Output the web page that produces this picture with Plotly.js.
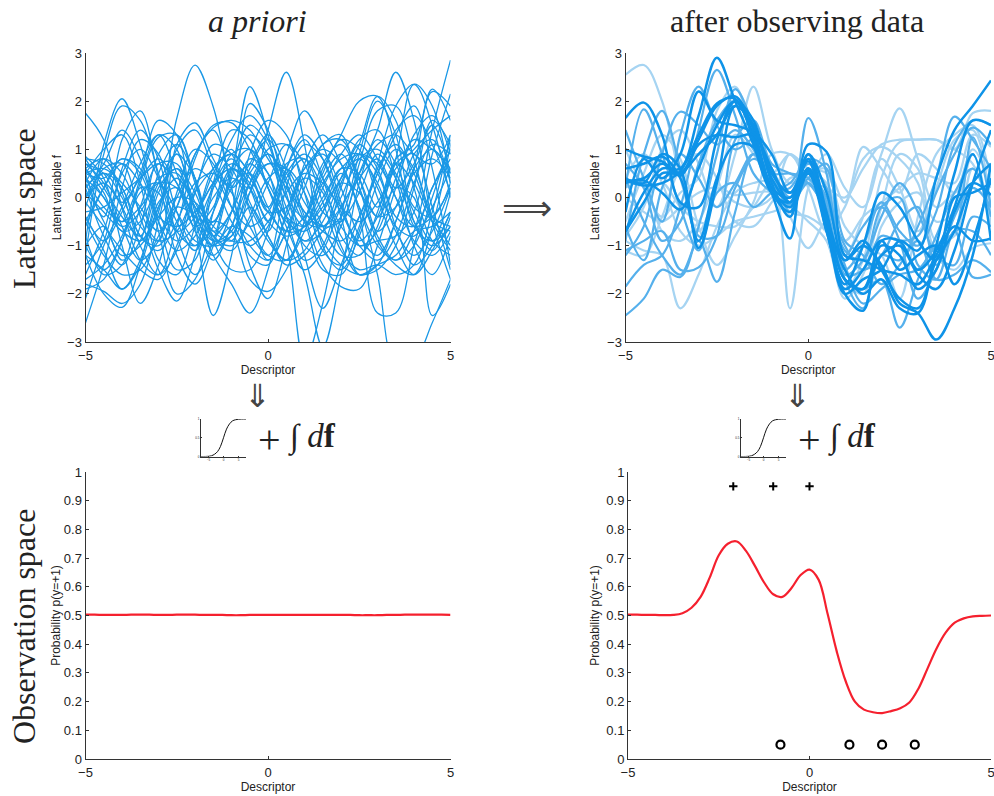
<!DOCTYPE html>
<html><head><meta charset="utf-8">
<script src="https://cdn.plot.ly/plotly-3.0.1.min.js"></script>
<style>html,body{margin:0;padding:0;background:#fff}</style></head>
<body><div id="chart" style="width:994px;height:796px"></div>
<script>
const grid=[-5,-4.5,-4,-3.5,-3,-2.5,-2,-1.5,-1,-0.5,0,0.5,1,1.5,2,2.5,3,3.5,4,4.5,5];
const priorSamples=[
[0.3,-0.5,-1.2,-1.0,-0.3,1.64,2.75,1.88,0.2,-1.2,-1.4,-0.3,0.6,0.9,0.2,-0.8,-1.2,-0.5,0.6,1.0,0.5],
[-0.6,0.2,0.8,0.5,-0.5,-1.1,-0.8,0.0,0.4,0.2,1.4,2.6,1.1,-1.0,-1.5,-0.8,0.3,1.0,0.6,-0.4,-1.0],
[0.7,0.3,-0.6,-1.3,-0.9,0.0,0.6,0.3,-0.5,-1.0,-0.6,0.4,0.8,0.2,-0.6,-1.0,-0.9,-0.8,-0.3,1.4,2.85],
[-0.9,1.1,2.05,1.1,-0.3,-0.9,-0.6,0.2,0.7,0.4,-0.3,-0.7,-0.4,0.3,0.8,0.9,0.2,-0.6,-0.8,-0.2,0.6],
[-1.2,0.9,1.9,1.6,0.5,-0.7,-1.0,-0.3,0.6,1.0,0.5,-0.4,-0.9,-0.5,0.4,1.2,1.4,0.4,-1.0,-1.6,-0.8],
[0.5,-0.4,1.2,1.8,0.4,-1.2,-1.8,-1.0,0.4,1.3,0.9,-0.2,-0.9,-0.7,0.3,1.1,2.1,1.6,0.2,-0.9,-1.2],
[1.75,1.2,-0.2,-1.3,-1.6,-0.6,0.8,1.5,1.55,1.0,0.2,-0.5,-0.7,-0.3,0.4,0.8,0.3,-0.7,-1.2,-0.7,0.2],
[-2.6,-1.4,0.2,1.2,0.9,-0.3,-1.0,-0.6,0.5,2.3,1.3,-0.4,-1.3,-1.0,0.2,1.1,0.6,-0.4,-0.6,0.2,1.0],
[-2.1,-1.0,-0.2,0.7,1.3,0.5,-0.5,-1.0,-0.3,1.95,1.4,0.1,-1.0,-1.2,-0.6,0.5,1.4,2.6,1.6,-0.5,-1.7],
[-1.8,-1.95,-2.2,-1.8,-0.5,1.0,1.4,0.6,-0.2,-0.6,-0.3,0.5,0.9,0.4,-0.3,-0.9,-0.4,0.8,2.35,1.9,0.3],
[0.85,0.4,-1.0,-2.2,-1.4,0.1,1.0,0.7,-0.2,-1.0,-1.3,-0.7,0.2,1.1,1.2,0.4,-0.8,-1.3,-0.7,0.9,2.15],
[-1.2,-2.0,-2.28,-1.4,0.1,0.6,0.1,-0.8,-1.0,-0.5,0.3,1.1,0.7,-0.3,-0.5,0.7,1.8,1.9,0.8,-0.5,-1.1],
[0.5,0.4,0.8,0.6,-0.7,-2.0,-1.7,-0.3,0.9,1.0,0.2,-0.9,-3.4,-2.2,-0.4,0.9,0.5,-0.6,-1.4,-1.0,0.1],
[0.2,-0.8,-1.4,-0.6,0.9,1.3,0.4,-0.8,-1.1,-0.4,0.4,0.6,0.1,-0.9,-1.4,-1.6,-1.5,-1.0,0.2,1.6,1.1],
[-0.2,0.6,0.7,-0.4,-1.5,-2.15,-1.2,0.3,1.4,1.2,0.2,-0.6,-1.6,-3.1,-1.6,0.3,1.2,0.7,-0.2,-0.4,0.3],
[0.6,0.1,-0.7,-0.5,0.3,0.9,-0.6,-2.45,-1.2,0.9,1.6,1.3,0.1,-1.1,-1.4,-0.6,0.6,1.1,0.5,-0.4,-0.6],
[-1.0,-1.5,-0.9,0.4,1.3,1.0,-0.3,-1.2,-1.8,-2.4,-1.5,0.2,1.1,0.8,-0.2,-1.0,-1.3,-0.8,0.3,1.1,0.9],
[0.0,0.5,0.2,-0.8,-1.0,-0.2,0.9,1.4,0.2,-1.4,-2.1,-1.0,0.7,1.3,0.7,-0.3,-2.4,-2.4,-1.0,0.2,0.8],
[-1.6,-0.7,0.5,1.0,0.4,-0.5,-1.1,-0.5,-0.7,-1.7,-1.95,-1.5,-0.5,0.5,1.2,1.0,0.0,-1.0,-1.6,-1.1,-0.3],
[0.3,0.8,0.5,-0.3,-0.9,-0.7,0.1,0.6,0.9,0.5,-0.2,0.9,1.8,1.1,-0.1,-1.0,-0.7,0.4,1.2,1.0,0.6],
[-0.4,-0.9,-0.3,0.5,1.6,1.3,-0.5,-1.3,-0.6,0.5,0.9,0.3,-0.5,-0.6,0.0,0.8,1.0,0.5,-0.3,-0.9,-0.6],
[-1.2,-1.5,-1.9,-1.3,-0.1,0.2,-0.7,-1.2,-0.6,0.3,0.7,0.5,-0.4,-1.4,-1.85,-1.9,-1.0,0.2,1.3,1.7,0.9],
[0.4,0.0,-0.6,-0.3,0.4,0.5,-0.2,-0.8,-0.3,0.6,1.2,0.3,-1.2,-2.3,-1.4,-0.4,0.5,1.3,1.9,0.6,-1.4],
[0.2,0.5,0.0,-0.8,-1.1,-0.5,0.3,0.5,0.1,-0.6,-1.2,-1.3,-0.5,0.7,1.1,0.4,-0.4,0.2,0.0,-2.45,-1.8],
[-0.5,0.2,0.7,0.3,-0.4,-0.6,-0.3,0.3,0.8,0.2,-0.8,-1.3,-1.1,-0.3,0.5,-0.2,-1.6,-3.5,-3.4,-2.6,-1.7],
[0.5,0.6,0.3,-0.2,-0.7,-0.2,0.9,1.45,1.6,1.4,0.8,0.2,-0.3,-0.7,-0.9,-0.4,0.5,1.4,1.7,1.1,0.1],
[0.8,0.7,0.2,-0.6,-0.9,1.1,1.55,0.8,0.2,0.7,1.3,0.6,-0.3,-0.6,-0.2,0.5,1.1,1.3,0.9,0.7,1.3],
[0.1,-0.3,-0.7,-0.9,-0.4,0.0,-0.1,-0.6,-0.9,-0.9,-0.5,0.1,0.5,0.3,-0.2,-0.5,-0.1,0.6,1.0,1.4,1.7],
[-0.3,-0.2,0.1,0.4,0.7,0.3,-0.4,-0.9,-0.7,0.1,0.7,0.6,-0.1,-0.6,-0.5,0.1,0.9,0.4,-0.5,-1.0,-0.6],
[0.4,-0.2,-0.5,-0.2,0.3,0.2,-0.4,-0.5,0.2,0.7,0.3,-0.4,-0.6,-0.2,0.3,0.1,-0.4,-0.2,0.5,0.8,0.4],
[-0.5,-1.2,-1.6,-1.5,-0.8,-0.2,-0.3,0.3,0.6,0.2,-0.5,-0.8,-0.6,0.0,0.6,0.9,0.7,0.0,-0.6,-0.4,0.2],
[-1.7,-1.4,-0.8,0.1,0.3,-0.3,-0.9,-1.0,-0.6,-0.8,-1.2,-0.4,0.4,0.1,-1.0,-1.6,-1.4,-1.2,-0.7,-0.6,-0.3],
[0.7,0.5,-0.1,0.4,0.8,0.3,-0.6,-0.2,0.6,0.3,-0.5,0.6,1.2,0.4,-0.8,-1.2,-0.3,0.7,0.3,-0.5,-0.7],
[0.0,0.3,-0.2,-0.9,-0.2,0.9,0.4,-0.7,-0.3,0.8,0.5,-0.7,-0.6,0.4,0.9,0.2,-0.7,-0.2,0.9,1.2,0.3],
[0.6,0.0,-0.5,0.2,0.1,-0.7,-0.4,0.5,1.0,-0.3,-1.3,-0.7,0.4,1.1,1.3,0.2,-0.9,-1.4,-1.6,-0.6,1.1],
[-1.0,-0.6,-1.3,-0.9,0.5,1.1,0.4,-0.9,-0.8,-0.2,-0.8,-1.4,-1.2,-0.7,-0.4,0.9,2.0,1.3,-0.5,-1.1,-0.4],
[0.2,0.7,1.4,0.8,-0.5,-1.5,-1.3,0.2,1.2,1.7,1.2,0.0,-0.6,-0.1,0.6,0.5,-0.2,0.8,1.1,2.25,1.6],
[0.8,0.2,-0.4,-0.8,0.2,0.6,-0.2,-0.5,0.3,0.5,-0.2,-0.9,-1.5,-1.1,-0.2,0.4,0.8,0.2,0.7,1.5,0.5],
[-0.8,-1.6,-1.4,-0.2,0.7,0.7,-0.1,-0.7,-0.9,0.1,1.0,1.1,0.3,-0.6,-1.2,-1.2,-0.6,0.7,0.9,-0.2,-1.5],
[0.5,1.0,1.3,0.3,-1.3,-1.6,-0.6,0.6,0.9,0.5,-0.3,-0.2,0.6,1.0,0.7,-0.2,-1.0,-1.3,-1.0,0.0,1.2],
[-1.4,-0.9,0.6,1.4,0.8,-0.8,-1.6,-0.9,0.6,1.5,1.1,0.0,-0.4,0.6,1.3,2.0,2.1,1.0,-0.6,-0.9,-0.3],
[-0.4,-1.1,-1.9,-1.4,-0.2,0.4,-0.2,-1.0,-0.8,0.3,0.9,0.4,-0.5,-1.5,-1.6,-0.7,0.7,1.9,2.35,1.5,0.0],
[0.6,0.8,0.1,-1.0,-1.6,-1.1,0.1,1.1,0.9,-0.1,-0.7,0.6,1.3,0.8,-0.4,-1.6,-1.4,-0.5,0.6,2.2,1.9],
[-0.1,-0.6,-1.1,-1.5,-1.7,-1.0,0.2,0.9,0.6,-0.2,-0.9,-1.3,-0.7,0.2,0.9,1.3,0.8,0.0,-0.9,-1.2,-0.7],
[-1.9,-1.7,-0.9,0.3,1.25,1.3,0.3,-0.9,-1.5,-1.5,-0.7,0.7,0.8,-0.1,-1.1,-1.5,-1.4,-1.6,-1.4,-0.3,1.3]
];
const posteriorLight=[
[2.55,2.75,2.0,0.4,-0.7,0.2,1.3,0.9,0.3,0.1,0.3,0.2,0.0,0.6,1.1,1.2,1.2,1.2,1.0,0.7,-0.5],
[-0.9,-1.1,-1.2,-2.3,-1.6,-0.6,0.1,0.3,0.3,-2.3,0.2,0.9,0.2,-0.2,0.9,1.85,0.8,-0.2,0.1,0.2,-0.1],
[-1.1,-1.2,-0.4,0.6,0.9,0.4,-0.5,-0.6,-0.1,0.4,0.5,0.6,-0.1,1.05,0.6,0.1,0.9,0.6,0.1,1.0,0.2],
[-0.5,0.5,1.3,0.8,-0.6,-1.4,-0.8,-0.1,0.9,0.9,0.4,-0.4,-1.9,-1.3,0.4,1.15,1.2,1.2,1.0,1.75,1.8],
[0.2,0.3,-0.7,-0.9,-0.5,0.2,0.05,0.1,0.1,-0.4,-1.05,-0.5,-0.9,-0.4,-0.1,0.2,0.5,0.4,0.3,1.3,1.05],
[-0.7,-0.1,0.3,-0.2,-0.5,-0.6,-0.6,-0.2,0.3,-0.3,-0.4,-0.7,-1.7,-2.0,-0.6,-0.1,0.1,-0.5,-0.3,0.9,-0.6],
[1.0,0.2,-0.4,0.1,0.4,1.8,2.3,1.2,0.5,0.9,0.6,0.5,-0.6,-1.0,-1.2,-2.1,-0.4,0.9,1.3,1.5,0.3],
[0.0,-0.3,-0.5,-0.2,0.1,0.2,-0.1,-0.2,0.0,0.9,0.2,-0.7,-0.2,0.8,1.05,0.8,0.3,-1.2,-1.5,-1.05,-0.95],
[-0.8,-0.2,1.0,1.4,0.7,-0.2,0.9,2.3,1.0,0.3,0.5,0.3,-1.2,-0.4,0.8,0.2,-0.7,0.2,1.2,1.4,-0.3],
[0.4,0.9,0.3,-0.7,-1.0,-0.8,-0.5,-0.4,-0.3,-0.2,-0.5,-0.9,-2.1,-1.6,-0.2,0.9,0.6,-0.9,-0.8,0.6,-0.2]
];
const posteriorMedium=[
[1.4,0.4,-0.5,1.3,2.3,1.5,1.0,1.2,0.6,0.0,0.4,0.7,-1.6,-1.3,-0.4,0.3,-0.3,-1.2,-1.4,-0.4,-0.6],
[-2.45,-2.1,-1.5,-1.65,-0.6,0.9,2.25,1.5,0.4,0.0,0.5,-0.2,-1.6,-1.5,-0.8,-0.9,-0.8,0.1,0.9,1.45,1.1],
[-1.85,-1.4,-1.2,-0.2,1.4,2.65,1.7,0.5,0.1,-0.15,0.3,-0.4,-1.7,-1.9,-1.7,-2.7,-1.7,-0.8,0.1,0.6,-0.4],
[-0.9,0.9,1.8,0.6,-0.8,-0.8,0.2,0.8,0.5,-0.3,1.65,0.5,-1.7,-2.3,-1.2,-1.3,-0.6,0.4,1.68,1.2,0.6],
[-1.2,-0.6,0.9,1.78,1.5,1.1,1.4,1.0,0.2,0.3,0.8,0.6,-0.9,-1.2,-1.8,-1.4,-0.9,-1.7,-1.6,-1.3,-1.55],
[0.4,-0.5,-1.2,-1.6,-0.9,-1.75,-0.3,0.9,0.3,0.1,0.5,0.0,-1.1,-1.3,-0.2,0.0,-1.4,-1.7,-0.7,-1.65,-1.6],
[-0.6,-1.3,0.2,0.9,0.4,-0.2,0.3,0.9,0.5,0.5,0.4,-0.1,-1.0,-1.5,-1.2,-0.5,-0.2,-1.4,-0.7,-0.7,-1.2],
[0.7,0.2,-0.9,-0.5,0.7,1.6,2.0,1.3,0.6,-0.2,0.6,-0.1,-1.4,-2.2,-1.9,-1.6,-1.5,-1.0,-0.7,1.25,-0.2],
[0.2,1.83,0.9,-0.2,-1.1,0.1,0.3,-0.2,0.1,0.2,0.7,0.2,-1.2,-0.6,-0.2,-0.9,-2.1,-1.5,-0.4,0.2,-0.2],
[-1.1,-0.9,-0.7,-1.5,-1.45,-0.8,1.2,1.6,0.7,0.5,0.3,-0.3,-1.5,-1.0,-0.1,-0.7,-1.0,-0.3,1.1,1.6,1.5]
];
const posteriorStrong=[
[1.65,1.97,1.3,-0.1,-0.2,1.2,2.0,1.3,0.2,0.0,0.9,-0.3,-1.7,-1.9,-1.0,-1.2,-1.9,-1.5,-0.3,0.3,0.05],
[-0.7,0.1,0.6,0.6,1.7,2.9,2.0,1.1,0.1,-0.1,0.8,-0.4,-1.5,-2.0,-1.7,-2.3,-2.4,-1.0,0.5,1.6,1.5],
[0.4,0.3,0.9,0.6,-1.05,0.3,1.9,1.5,0.4,-0.1,0.6,-0.5,-1.3,-1.0,-1.4,-2.2,-2.4,-2.95,-2.3,-1.2,0.7],
[1.0,0.85,0.75,0.5,1.2,1.9,2.1,1.4,0.2,-0.2,0.6,-0.6,-2.0,-1.7,-1.5,-0.9,-1.1,0.4,1.4,1.9,2.43],
[0.35,0.25,0.3,0.55,1.3,1.95,2.05,1.2,0.1,-0.3,0.5,-0.7,-2.0,-2.35,-0.9,-0.9,-1.5,-1.1,-0.2,0.9,-0.9],
[0.35,0.4,0.7,0.45,1.1,1.3,1.25,1.3,0.6,-0.1,0.55,-0.4,-1.7,-1.9,-1.2,-1.0,-1.6,-1.9,-1.1,0.3,1.4],
[0.3,0.35,0.1,-0.25,0.6,1.5,2.0,1.6,0.3,-0.4,0.9,0.1,-1.3,-0.9,-1.5,-2.1,-2.3,-1.3,-0.7,0.3,0.7],
[-0.7,-0.1,0.5,0.5,0.9,1.3,1.9,1.5,0.5,0.1,0.5,-0.5,-1.9,-1.5,-0.9,-1.5,-1.2,-1.0,-1.8,-0.9,0.4],
[0.6,0.7,0.85,0.4,-0.9,0.4,1.1,1.05,0.1,-0.85,1.1,0.95,-1.2,-1.3,-1.5,-1.6,-1.8,-1.2,-0.6,-0.9,-0.85],
[-0.3,0.8,0.4,0.9,2.2,1.6,1.5,1.35,0.9,0.1,0.75,-0.7,-1.8,-1.0,0.1,-0.2,-0.9,-1.3,0.0,0.1,0.3]
];
const probX=[-5,-4.75,-4.5,-4.25,-4,-3.75,-3.5,-3.25,-3,-2.75,-2.5,-2.25,-2,-1.75,-1.5,-1.25,-1,-0.75,-0.5,-0.25,0,0.25,0.5,0.75,1,1.25,1.5,1.75,2,2.25,2.5,2.75,3,3.25,3.5,3.75,4,4.25,4.5,4.75,5];
const probPosterior=[0.503,0.503,0.502,0.502,0.501,0.502,0.508,0.527,0.565,0.632,0.71,0.75,0.758,0.725,0.672,0.615,0.574,0.565,0.595,0.64,0.66,0.625,0.505,0.375,0.27,0.2,0.172,0.163,0.16,0.167,0.177,0.197,0.245,0.315,0.385,0.44,0.475,0.49,0.497,0.499,0.5];
const probPrior=[0.503,0.503,0.502,0.502,0.502,0.503,0.503,0.503,0.502,0.502,0.503,0.503,0.503,0.502,0.502,0.502,0.501,0.501,0.502,0.502,0.502,0.502,0.502,0.502,0.502,0.502,0.502,0.502,0.502,0.502,0.501,0.501,0.501,0.502,0.502,0.503,0.503,0.503,0.503,0.503,0.502];
const plusX=[-2.1,-1.0,0.0], plusY=[0.95,0.95,0.95];
const circleX=[-0.8,1.1,2.0,2.9], circleY=[0.05,0.05,0.05,0.05];
const linkX=[-7.5,-6,-5,-4,-3,-2,-1,0,1,2,3,4,5,6,7.5];
const linkY=[0,0.001,0.005,0.02,0.06,0.13,0.27,0.5,0.73,0.87,0.95,0.98,0.995,0.999,1];
const columnTitles=["a priori","after observing data"];
const rowTitles=["Latent space","Observation space"];
const xLabel="Descriptor";
const yLabelLatent="Latent variable f";
const yLabelProb="Probability p(y=+1)";

const W=994,H=796,AX="#333",SERIF="Liberation Serif",SANS="Liberation Sans";
const dx=(a,b)=>[a/W,b/W], dy=(t,b)=>[1-b/H,1-t/H];
function axis(dom,range,tv,tt,len,size,title,standoff,anchor){
  const a={domain:dom,range,tickvals:tv,ticktext:tt,tickmode:"array",ticks:"inside",ticklen:len,tickwidth:1,tickcolor:AX,
    showline:true,linecolor:AX,linewidth:1,showgrid:false,zeroline:false,fixedrange:true,anchor,automargin:false,ticklabeloverflow:"allow",
    tickfont:{family:SANS,size,color:"#222"}};
  if(title)a.title={text:title,standoff,font:{family:SANS,size:12,color:"#222"}};
  return a;
}
const xT=[-5,0,5],xL=["\u22125","0","5"];
const yT=[-3,-2,-1,0,1,2,3],yL=["\u22123","\u22122","\u22121","0","1","2","3"];
const pT=[0,.1,.2,.3,.4,.5,.6,.7,.8,.9,1],pL=["0","0.1","0.2","0.3","0.4","0.5","0.6","0.7","0.8","0.9","1"];
const layout={width:W,height:H,margin:{l:0,r:0,t:0,b:0},paper_bgcolor:"#fff",plot_bgcolor:"#fff",showlegend:false,
  xaxis:axis(dx(85.5,450.5),[-5,5],xT,xL,3,13,xLabel,0,"y"),
  yaxis:axis(dy(53,342),[-3,3],yT,yL,3,13,yLabelLatent,2,"x"),
  xaxis2:axis(dx(625.5,991),[-5,5],xT,xL,3,13,xLabel,0,"y2"),
  yaxis2:axis(dy(53,342),[-3,3],yT,yL,3,13,yLabelLatent,4,"x2"),
  xaxis3:axis(dx(85.5,450.5),[-5,5],xT,xL,3,13,xLabel,1,"y3"),
  yaxis3:axis(dy(472,759),[0,1],pT,pL,3,13,yLabelProb,0,"x3"),
  xaxis4:axis(dx(628,991),[-5,5],xT,xL,3,13,xLabel,1,"y4"),
  yaxis4:axis(dy(472,759),[0,1],pT,pL,3,13,yLabelProb,4,"x4"),
  xaxis5:axis(dx(201,246),[-7.5,7.5],[-5,0,5],["\u22125","0","5"],1,3,null,0,"y5"),
  yaxis5:axis(dy(419,456.5),[0,1],[0,.5,1],["0","0.5","1"],1,3,null,0,"x5"),
  xaxis6:axis(dx(741,786),[-7.5,7.5],[-5,0,5],["\u22125","0","5"],1,3,null,0,"y6"),
  yaxis6:axis(dy(419,456.5),[0,1],[0,.5,1],["0","0.5","1"],1,3,null,0,"x6"),
  annotations:[]
};
["xaxis","xaxis2","xaxis3","xaxis4"].forEach(k=>{layout[k].ticklabelstandoff=1;});
function txt(text,x,y,size,extra){
  layout.annotations.push(Object.assign({text,xref:"paper",yref:"paper",x:x/W,y:1-y/H,xanchor:"center",yanchor:"middle",showarrow:false,
    font:{family:SERIF,size,color:"#222"}},extra||{}));
}
txt("<i>"+columnTitles[0]+"</i>",257,21,32);
txt(columnTitles[1],797,21,32);
txt(rowTitles[0],24,209,32,{textangle:-90});
txt(rowTitles[1],24,627,32,{textangle:-90});
const arrowFont=s=>({font:{family:"DejaVu Sans",size:s,color:"#444"}});
txt("\u27F9",527,208,35,arrowFont(35));
txt("\u21D3",257,396,32,arrowFont(32));
txt("\u21D3",797,396,32,arrowFont(32));
[0,540].forEach(o=>{
  txt("+",269+o,440,40);
  txt("\u222B <i>d</i><b>f</b>",312+o,437,33);
});

const data=[];
const line=(y,xa,ya,color,width)=>({x:grid,y,xaxis:xa,yaxis:ya,type:"scatter",mode:"lines",line:{shape:"spline",smoothing:1,color,width},hoverinfo:"skip"});
priorSamples.forEach(s=>data.push(line(s,"x","y","#1a98e6",1.3)));
posteriorLight.forEach(s=>data.push(line(s,"x2","y2","#a6d4f2",2.2)));
posteriorMedium.forEach(s=>data.push(line(s,"x2","y2","#55b0ec",2.2)));
posteriorStrong.forEach(s=>data.push(line(s,"x2","y2","#0e93e8",2.5)));
const red=(y,xa,ya)=>({x:probX,y,xaxis:xa,yaxis:ya,type:"scatter",mode:"lines",line:{shape:"spline",color:"#f5202e",width:2.2},hoverinfo:"skip"});
data.push(red(probPrior,"x3","y3"));
data.push(red(probPosterior,"x4","y4"));
data.push({x:plusX,y:plusY,xaxis:"x4",yaxis:"y4",type:"scatter",mode:"markers",marker:{symbol:"cross-thin",size:6,line:{width:2,color:"#000"}},hoverinfo:"skip"});
data.push({x:circleX,y:circleY,xaxis:"x4",yaxis:"y4",type:"scatter",mode:"markers",marker:{symbol:"circle-open",size:8,color:"#000",line:{width:2.2,color:"#000"}},hoverinfo:"skip"});
[["x5","y5"],["x6","y6"]].forEach(a=>data.push({x:linkX,y:linkY,xaxis:a[0],yaxis:a[1],type:"scatter",mode:"lines",line:{shape:"spline",color:"#111",width:1},hoverinfo:"skip"}));
Plotly.newPlot("chart",data,layout,{displayModeBar:false,staticPlot:true});
</script></body></html>
